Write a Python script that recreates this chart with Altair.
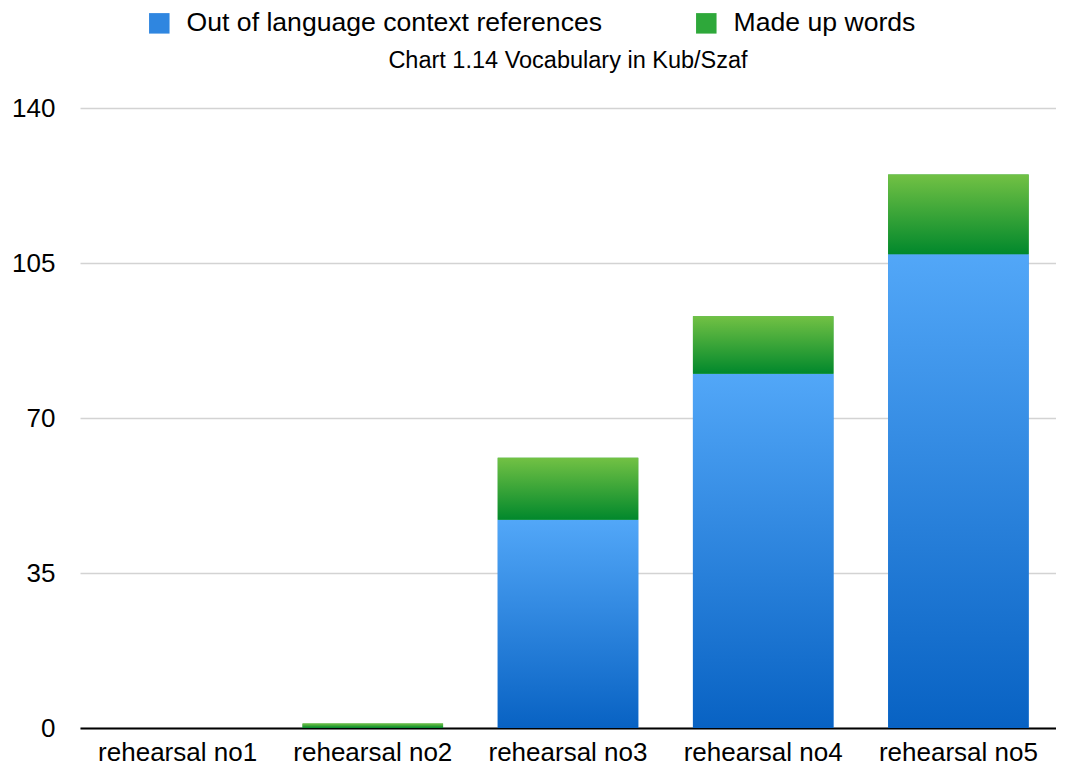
import altair as alt
import pandas as pd

categories = ["rehearsal no1", "rehearsal no2", "rehearsal no3", "rehearsal no4", "rehearsal no5"]
out_of_context = [0, 0, 47, 80, 107]
made_up = [0, 1, 14, 13, 18]
series_names = ["Out of language context references", "Made up words"]
y_ticks = [0, 35, 70, 105, 140]

rows = []
for c, a, b in zip(categories, out_of_context, made_up):
    rows.append({"cat": c, "series": series_names[0], "y0": 0, "y1": a})
    rows.append({"cat": c, "series": series_names[1], "y0": a, "y1": a + b})
df = pd.DataFrame(rows)

blue_grad = alt.LinearGradient(gradient="linear", x1=0, y1=0, x2=0, y2=1,
                               stops=[alt.GradientStop(color="#52a7f8", offset=0),
                                      alt.GradientStop(color="#0862c3", offset=1)])
green_grad = alt.LinearGradient(gradient="linear", x1=0, y1=0, x2=0, y2=1,
                                stops=[alt.GradientStop(color="#72c144", offset=0),
                                       alt.GradientStop(color="#01882c", offset=1)])

FONT = "Liberation Sans"

x_enc = alt.X("cat:N", sort=categories, title=None,
              scale=alt.Scale(paddingInner=0.28, paddingOuter=0.14),
              axis=alt.Axis(labelAngle=0, labelFontSize=26, labelColor="black", labelFont=FONT,
                            ticks=False, domainColor="black", domainWidth=2, labelPadding=11))
y_enc = alt.Y("y0:Q", title=None,
              scale=alt.Scale(domain=[0, 140]),
              axis=alt.Axis(values=y_ticks, labelFontSize=26, labelColor="black", labelFont=FONT,
                            ticks=False, domain=False, gridColor="#d3d3d3", gridWidth=1.5,
                            labelPadding=25))

base = alt.Chart(df)

legend_layer = base.mark_bar().encode(
    x=x_enc, y=y_enc, y2="y1:Q",
    color=alt.Color("series:N", sort=series_names,
                    scale=alt.Scale(domain=series_names, range=["#2f86e0", "#2ea83a"]),
                    legend=alt.Legend(title=None, orient="none", direction="horizontal",
                                      legendX=66, legendY=-98, symbolType="square",
                                      symbolSize=420, symbolStrokeWidth=0,
                                      labelFontSize=26.6, labelFont=FONT, labelColor="black",
                                      labelOffset=14, columnPadding=90, labelLimit=600)),
)

blue_layer = base.transform_filter(alt.datum.series == series_names[0]).mark_bar(
    color=blue_grad).encode(x=x_enc, y=y_enc, y2="y1:Q")
green_layer = base.transform_filter(alt.datum.series == series_names[1]).mark_bar(
    color=green_grad).encode(x=x_enc, y=y_enc, y2="y1:Q")

chart = alt.layer(legend_layer, blue_layer, green_layer).properties(
    width=976, height=620,
    padding={"left": 3, "top": 2, "right": 0, "bottom": 0},
    title=alt.TitleParams("Chart 1.14 Vocabulary in Kub/Szaf", fontSize=23.5, font=FONT,
                          fontWeight="normal", color="black", anchor="middle", frame="group",
                          offset=-62),
).configure_view(stroke=None)

chart.save("out.html", embed_options={"renderer": "svg", "actions": False})
